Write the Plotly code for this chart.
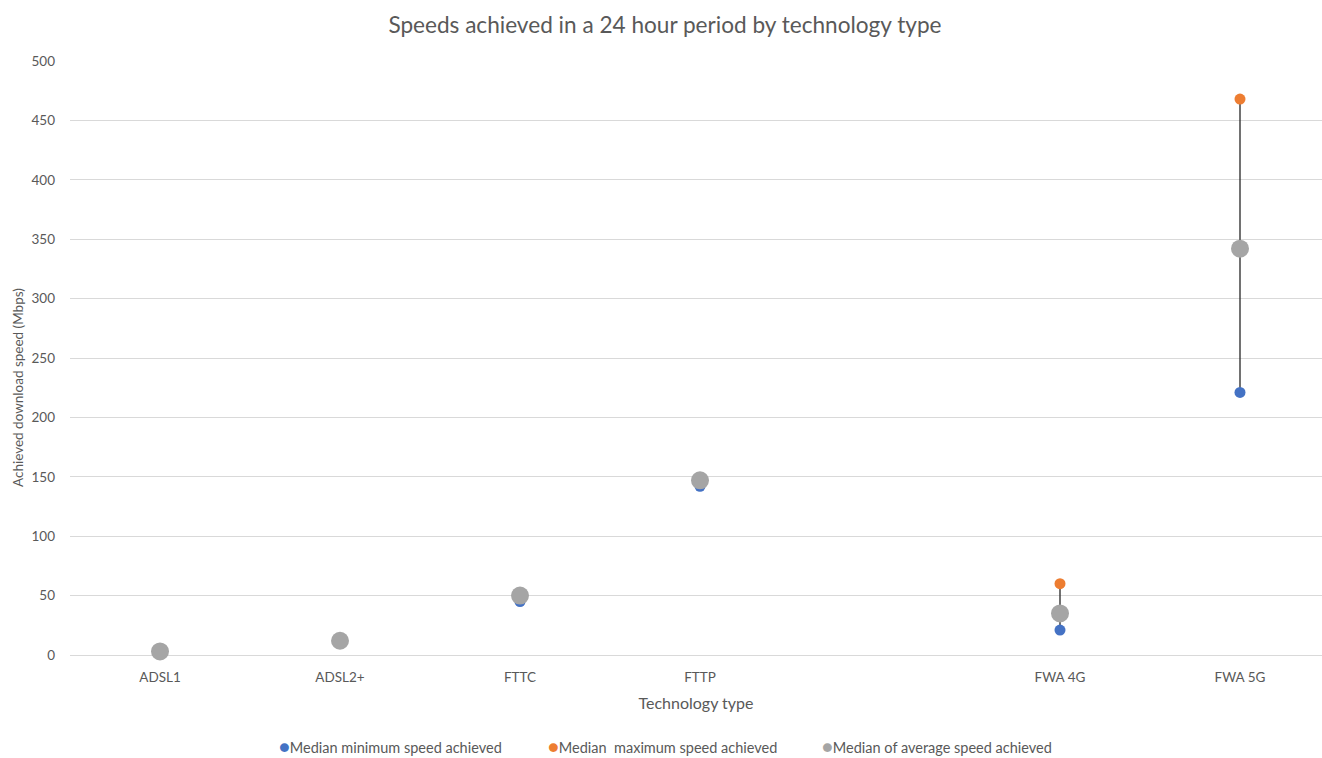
import plotly.graph_objects as go

# Technology types (blank slot keeps the gap between fixed-line and FWA)
categories = ["ADSL1", "ADSL2+", "FTTC", "FTTP", "", "FWA 4G", "FWA 5G"]
median_min = [2, 11, 45, 142, None, 21, 221]
median_max = [4, 13, 51, 149, None, 60, 468]
median_avg = [3, 12, 50, 147, None, 35, 342]

y_ticks = [0, 50, 100, 150, 200, 250, 300, 350, 400, 450, 500]

series_names = [
    "Median minimum speed achieved",
    "Median  maximum speed achieved",
    "Median of average speed achieved",
]
series_colors = ["#4472C4", "#ED7D31", "#A5A5A5"]

xpos = list(range(len(categories)))
font_family = "Lato, 'Open Sans', sans-serif"
text_col = "#595959"

fig = go.Figure()

# High-low connector lines between minimum and maximum
for x, lo, hi in zip(xpos, median_min, median_max):
    if lo is None or hi is None:
        continue
    fig.add_trace(go.Scatter(
        x=[x, x], y=[lo, hi], mode="lines",
        line=dict(color="#262626", width=1.3),
        showlegend=False, hoverinfo="skip", cliponaxis=False,
    ))

for vals, name, col, size in zip(
    [median_min, median_max, median_avg], series_names, series_colors, [11, 11, 18]
):
    fig.add_trace(go.Scatter(
        x=xpos, y=vals, mode="markers", name=name,
        marker=dict(color=col, size=size), cliponaxis=False, showlegend=False,
    ))

# Compact legend row below the axis title
legend_px = [277, 546, 820]
for px, name, col in zip(legend_px, series_names, series_colors):
    fig.add_annotation(
        xref="paper", yref="paper", x=(px - 70) / 1252, y=(655 - 746) / 594,
        xanchor="left", yanchor="middle", showarrow=False,
        text=f"<span style='color:{col};font-size:18px'>●</span>" + name.replace("  ", "&nbsp; "),
        font=dict(size=14.5, color=text_col, family=font_family),
    )

# Y-axis title
fig.add_annotation(
    xref="paper", yref="paper", x=0, y=(655 - 388) / 594, xshift=-52,
    xanchor="center", yanchor="middle", showarrow=False, textangle=-90,
    text="Achieved download speed (Mbps)",
    font=dict(size=13.5, color=text_col, family=font_family),
)

fig.update_layout(
    width=1322, height=758,
    margin=dict(l=70, r=0, t=61, b=103),
    paper_bgcolor="white", plot_bgcolor="white",
    font=dict(family=font_family, color=text_col, size=13),
    title=dict(
        text="Speeds achieved in a 24 hour period by technology type",
        x=0.503, xanchor="center", y=0.967, yanchor="middle",
        font=dict(size=22.6, color=text_col, family=font_family),
    ),
    showlegend=False,
)

fig.update_xaxes(
    range=[-0.5, -0.5 + 1252 / 180],
    tickmode="array", tickvals=xpos, ticktext=categories,
    showgrid=False, zeroline=False, showline=False,
    ticks="", ticklabelstandoff=12,
    tickfont=dict(size=13.5, color=text_col),
    title=dict(text="Technology type", font=dict(size=16, color=text_col), standoff=14),
)
fig.update_yaxes(
    range=[0, 500],
    tickmode="array", tickvals=y_ticks,
    showgrid=True, gridcolor="#D9D9D9", gridwidth=1,
    zeroline=True, zerolinecolor="#D9D9D9", zerolinewidth=1,
    showline=False, ticks="", ticklabelstandoff=14,
    tickfont=dict(size=13.5, color=text_col),
)

fig.write_html("out.html")
